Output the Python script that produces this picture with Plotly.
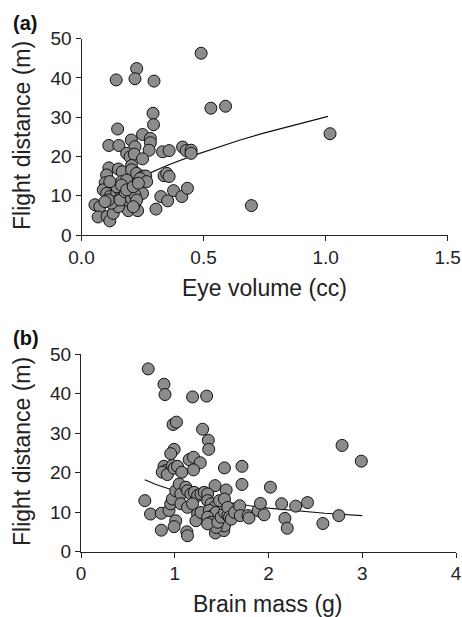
import plotly.graph_objects as go

# Panel (a): eye volume (cc) vs flight distance (m)
eye_volume = [0.49, 0.142, 0.226, 0.219, 0.297, 0.53, 0.59, 0.293, 0.295, 0.148, 1.018, 0.25,
              0.282, 0.282, 0.204, 0.112, 0.153, 0.219, 0.277, 0.332, 0.359, 0.414, 0.429, 0.449,
              0.449, 0.185, 0.199, 0.216, 0.25, 0.205, 0.112, 0.151, 0.167, 0.205, 0.226, 0.253,
              0.263, 0.24, 0.103, 0.338, 0.349, 0.359, 0.097, 0.116, 0.267, 0.25, 0.325, 0.353,
              0.377, 0.411, 0.434, 0.305, 0.192, 0.23, 0.219, 0.055, 0.075, 0.068, 0.105, 0.116,
              0.13, 0.696, 0.089, 0.103, 0.116, 0.130, 0.144, 0.158, 0.171, 0.185, 0.199, 0.137,
              0.151, 0.123, 0.110, 0.096, 0.158, 0.178, 0.205, 0.219, 0.144, 0.164, 0.185, 0.116,
              0.226, 0.212, 0.164, 0.185, 0.212, 0.233]
flight_a = [46.3, 39.5, 42.4, 39.8, 39.2, 32.3, 32.8, 31.0, 28.1, 27.0, 25.8, 25.6,
            24.6, 23.5, 24.2, 22.8, 22.8, 22.5, 21.6, 21.2, 21.5, 22.4, 21.5, 21.6,
            20.8, 20.8, 19.9, 20.6, 19.4, 17.7, 17.1, 16.8, 16.1, 16.6, 15.7, 15.0,
            15.0, 14.4, 15.3, 15.1, 15.7, 14.9, 13.3, 12.7, 13.6, 10.6, 9.8, 8.7,
            11.3, 9.8, 11.9, 6.6, 6.2, 6.2, 8.1, 7.7, 7.2, 4.6, 4.7, 3.6,
            5.5, 7.5, 11.5, 10.6, 9.8, 8.9, 10.6, 11.5, 9.8, 8.9, 10.6, 8.5,
            7.2, 8.1, 8.9, 8.5, 8.9, 11.0, 9.3, 10.2, 12.3, 13.6, 14.0, 13.6,
            8.9, 7.2, 12.7, 11.5, 12.3, 13.2]
fit_a_x = [0.055, 0.10, 0.15, 0.20, 0.27, 0.35, 0.45, 0.55, 0.65, 0.75, 0.85, 0.95, 1.01]
fit_a_y = [7.0, 9.5, 11.6, 13.4, 15.5, 17.7, 20.1, 22.2, 24.2, 26.0, 27.6, 29.2, 30.2]

# Panel (b): brain mass (g) vs flight distance (m)
brain_mass = [0.717, 0.885, 0.896, 1.19, 1.34, 0.982, 1.018, 1.297, 1.358, 1.362, 0.993, 0.957,
              1.154, 1.2, 1.272, 0.885, 0.903, 0.867, 0.921, 0.975, 0.993, 1.029, 1.075, 1.2,
              1.53, 1.717, 1.717, 1.43, 1.548, 2.02, 2.785, 2.99, 0.681, 0.742, 0.857, 0.857,
              1.01, 0.993, 1.129, 1.136, 0.939, 0.957, 0.975, 1.434, 1.523, 2.14, 2.175, 2.2,
              2.29, 2.416, 2.58, 2.75, 1.495, 1.53,
              1.011, 1.047, 1.065, 1.118, 1.136, 1.172, 1.208, 1.244, 1.280, 1.315, 1.351, 1.065,
              1.136, 1.190, 1.244, 1.226, 1.280, 1.351, 1.387, 1.423, 1.369, 1.405, 1.441, 1.351,
              1.387, 1.441, 1.351, 1.459, 1.495, 1.530, 1.566, 1.513, 1.477, 1.530, 1.566, 1.584,
              1.602, 1.638, 1.692, 1.699, 1.781, 1.792, 1.889, 1.914, 1.953]
flight_b = [46.3, 42.4, 39.8, 39.2, 39.4, 32.2, 32.8, 31.0, 28.2, 25.9, 25.9, 24.8,
            23.3, 23.9, 22.5, 21.6, 20.5, 20.1, 19.5, 21.8, 21.1, 21.6, 20.1, 20.7,
            21.2, 21.6, 17.0, 16.7, 15.6, 16.3, 26.9, 22.9, 12.9, 9.5, 9.7, 5.4,
            7.8, 6.3, 5.0, 4.0, 10.4, 12.1, 13.3, 4.7, 5.3, 12.1, 8.4, 5.9,
            11.5, 12.4, 7.1, 9.1, 7.8, 6.5,
            15.4, 17.1, 14.6, 16.3, 15.4, 14.6, 15.0, 14.2, 14.6, 15.0, 14.6, 12.1,
            11.2, 12.1, 9.5, 7.8, 9.9, 12.9, 12.1, 11.2, 10.4, 9.1, 9.9, 8.7,
            7.4, 6.1, 7.0, 7.4, 8.7, 9.9, 9.1, 12.1, 12.9, 13.3, 11.2, 8.7,
            8.2, 9.9, 11.6, 9.1, 9.1, 8.5, 10.4, 12.2, 9.3]
fit_b_x = [0.68, 0.8, 1.0, 1.2, 1.4, 1.6, 1.8, 2.0, 2.3, 2.6, 3.0]
fit_b_y = [18.2, 17.0, 15.4, 14.1, 13.1, 12.3, 11.6, 11.0, 10.3, 9.7, 9.1]

y_ticks = [0, 10, 20, 30, 40, 50]
a_x_ticks = [0.0, 0.5, 1.0, 1.5]
a_x_labels = ["0.0", "0.5", "1.0", "1.5"]
b_x_ticks = [0, 1, 2, 3, 4]
b_x_labels = ["0", "1", "2", "3", "4"]

W, H = 462, 617
FONT = "Liberation Sans, Arial, sans-serif"
marker = dict(size=12, color="#8c8c8c", line=dict(color="#111111", width=1))
line = dict(color="#111111", width=1.2)

fig = go.Figure()
fig.add_trace(go.Scatter(x=fit_a_x, y=fit_a_y, mode="lines", line=line, xaxis="x", yaxis="y", showlegend=False))
fig.add_trace(go.Scatter(x=eye_volume, y=flight_a, mode="markers", marker=marker, xaxis="x", yaxis="y", showlegend=False))
fig.add_trace(go.Scatter(x=fit_b_x, y=fit_b_y, mode="lines", line=line, xaxis="x2", yaxis="y2", showlegend=False))
fig.add_trace(go.Scatter(x=brain_mass, y=flight_b, mode="markers", marker=marker, xaxis="x2", yaxis="y2", showlegend=False))

def px_x(p):
    return p / W

def px_y(p):
    return 1 - p / H

axis_common = dict(showgrid=False, zeroline=False, showline=True, linecolor="#222222", linewidth=1,
                   ticks="outside", ticklen=5, tickwidth=1, tickcolor="#222222", automargin=False,
                   tickfont=dict(family=FONT, size=19, color="#222222"))

fig.update_layout(
    width=W, height=H,
    margin=dict(l=0, r=0, t=0, b=0),
    plot_bgcolor="white", paper_bgcolor="white",
    xaxis=dict(domain=[px_x(81.5), px_x(447.7)], range=[0, 1.5], anchor="y",
               tickvals=a_x_ticks, ticktext=a_x_labels, **axis_common),
    yaxis=dict(domain=[px_y(235), px_y(38.7)], range=[0, 50], anchor="x",
               tickvals=y_ticks, **axis_common),
    xaxis2=dict(domain=[px_x(81), px_x(456)], range=[0, 4], anchor="y2",
                tickvals=b_x_ticks, ticktext=b_x_labels, **axis_common),
    yaxis2=dict(domain=[px_y(551.5), px_y(354.3)], range=[0, 50], anchor="x2",
                tickvals=y_ticks, **axis_common),
)

title_font = dict(family=FONT, size=23, color="#222222")
label_font = dict(family=FONT, size=20, color="#111111")
ann = [
    dict(text="<b>(a)</b>", x=px_x(11), y=px_y(23), xanchor="left", yanchor="middle", font=label_font),
    dict(text="<b>(b)</b>", x=px_x(11), y=px_y(338), xanchor="left", yanchor="middle", font=label_font),
    dict(text="Eye volume (cc)", x=px_x(264), y=px_y(288), xanchor="center", yanchor="middle", font=title_font),
    dict(text="Brain mass (g)", x=px_x(267.5), y=px_y(604), xanchor="center", yanchor="middle", font=title_font),
    dict(text="Flight distance (m)", x=px_x(22), y=px_y(136), xanchor="center", yanchor="middle",
         textangle=-90, font=title_font),
    dict(text="Flight distance (m)", x=px_x(22), y=px_y(452), xanchor="center", yanchor="middle",
         textangle=-90, font=title_font),
]
for a in ann:
    a.update(xref="paper", yref="paper", showarrow=False)
fig.update_layout(annotations=ann)

fig.write_html("out.html", config={"displayModeBar": False},
               post_script="document.body.style.margin='0';document.body.style.overflow='hidden';")
